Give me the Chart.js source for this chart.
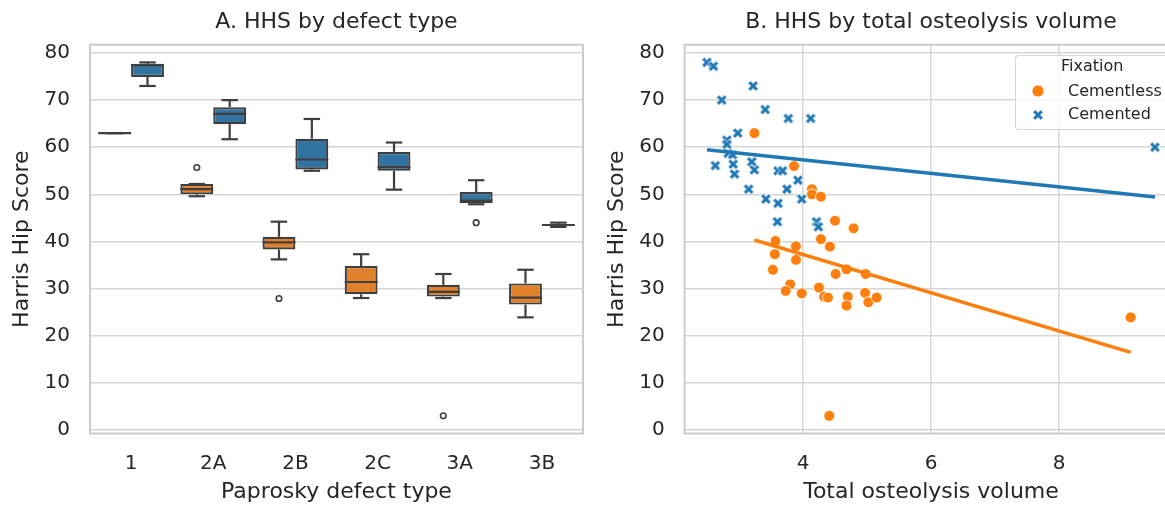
<!DOCTYPE html>
<html><head><meta charset="utf-8">
<script src="https://cdn.jsdelivr.net/npm/chart.js@4/dist/chart.umd.min.js"></script>
<style>
html,body{margin:0;padding:0;background:#fff;overflow:hidden;width:1165px;height:506px;}
#wrap{position:relative;width:1165px;height:506px;overflow:hidden;}
#c1{position:absolute;left:0;top:0;}
#c2{position:absolute;left:600px;top:0;}
#legend{position:absolute;left:1015px;top:55px;width:152px;height:73px;border:1px solid rgba(204,204,204,0.8);border-radius:4px;background:rgba(255,255,255,0.8);font-family:'DejaVu Sans';font-size:16px;color:#262626;}
#legend .t{position:absolute;line-height:20px;white-space:nowrap;}
#legend svg{position:absolute;}
</style></head>
<body><div id="wrap">
<canvas id="c1" width="600" height="506"></canvas>
<canvas id="c2" width="620" height="506"></canvas>
<div id="legend">
  <span class="t" style="left:45px;top:0px;">Fixation</span>
  <svg style="left:15px;top:28px" width="14" height="14"><circle cx="7" cy="7" r="6" fill="#ff7f0e" stroke="#fff" stroke-width="0.8"/></svg>
  <span class="t" style="left:52px;top:25px;">Cementless</span>
  <svg style="left:15px;top:52px" width="14" height="14"><polygon id="legX" fill="#1f77b4" stroke="#fff" stroke-width="0.8"/></svg>
  <span class="t" style="left:52px;top:48px;">Cemented</span>
</div>
</div>
<script>
// ---------- Panel A data (box plot summaries) ----------
const categories = ['1','2A','2B','2C','3A','3B'];
const cementlessMin    = [63.0, 49.6, 36.2, 28.0, 28.0, 23.9];
const cementlessQ1     = [63.0, 50.0, 38.3, 28.8, 28.3, 26.6];
const cementlessMedian = [63.0, 51.1, 39.8, 31.4, 29.3, 28.1];
const cementlessQ3     = [63.0, 52.2, 41.0, 34.8, 30.8, 31.1];
const cementlessMax    = [63.0, 52.2, 44.2, 37.3, 33.1, 34.0];
const cementlessOutliers = [[], [55.7], [27.9], [], [3.0], []];
const cementedMin    = [73.0, 61.7, 55.0, 51.0, 47.9, 43.1];
const cementedQ1     = [74.9, 64.9, 55.3, 55.0, 48.1, 43.4];
const cementedMedian = [77.4, 67.1, 57.4, 55.8, 48.7, 43.5];
const cementedQ3     = [77.7, 68.5, 61.8, 59.0, 50.5, 43.7];
const cementedMax    = [78.0, 70.0, 66.0, 61.0, 53.0, 44.0];
const cementedOutliers = [[], [], [], [], [44.0], []];

// ---------- Panel B data (scatter) ----------
const cementlessX = [3.24,3.86,4.14,4.14,4.28,4.50,4.79,4.28,4.42,3.57,3.56,3.89,3.89,3.53,4.51,4.68,4.98,3.80,3.73,3.98,4.25,4.33,4.39,4.70,4.68,4.97,5.02,5.15,9.12,4.41];
const cementlessY = [63.0,56.0,51.1,50.0,49.5,44.4,42.8,40.5,38.9,40.1,37.3,39.0,36.1,34.0,33.1,34.1,33.1,30.9,29.5,29.0,30.2,28.3,28.1,28.3,26.4,29.1,27.1,28.1,23.9,3.0];
const cementedX = [2.50,2.60,3.22,2.73,3.41,3.77,4.12,2.98,2.81,2.81,2.83,2.90,2.63,2.91,3.20,3.24,2.93,3.61,3.68,3.92,3.15,3.75,3.42,3.61,3.98,3.60,4.21,4.24,9.50];
const cementedY = [78.0,77.2,73.0,70.0,68.0,66.1,66.1,63.0,61.5,60.6,58.7,58.4,56.1,56.4,56.9,55.2,54.3,55.0,55.0,53.0,51.1,51.1,49.0,48.1,49.0,44.2,44.2,43.1,60.0];
const yTicksStep = 10;
const xTicksStep = 2;

const FONT = "'DejaVu Sans', sans-serif";
const TXT = '#262626';
const GRID = '#d5d5d5';
const EDGE = '#3f3f3f';

// regression fit from data
function fitLine(xs, ys){
  const n = xs.length;
  const mx = xs.reduce((a,b)=>a+b,0)/n, my = ys.reduce((a,b)=>a+b,0)/n;
  let sxy=0, sxx=0;
  for(let i=0;i<n;i++){ sxy += (xs[i]-mx)*(ys[i]-my); sxx += (xs[i]-mx)*(xs[i]-mx); }
  const b = sxy/sxx, a = my - b*mx;
  const x0 = Math.min(...xs), x1 = Math.max(...xs);
  return [{x:x0, y:a+b*x0},{x:x1, y:a+b*x1}];
}

// X marker shape
function xPolygon(cx, cy, a, b){
  const pts = [[b,a],[b,b],[a,b],[a,-b],[b,-b],[b,-a],[-b,-a],[-b,-b],[-a,-b],[-a,b],[-b,b],[-b,a]];
  const c = Math.cos(Math.PI/4), s = Math.sin(Math.PI/4);
  return pts.map(([x,y])=>[cx + x*c - y*s, cy + x*s + y*c]);
}
function makeXMarker(){
  const cv = document.createElement('canvas'); cv.width = 16; cv.height = 16;
  const g = cv.getContext('2d');
  const p = xPolygon(8,8,5.6,1.8);
  g.beginPath(); p.forEach(([x,y],i)=> i?g.lineTo(x,y):g.moveTo(x,y)); g.closePath();
  g.fillStyle = '#1f77b4'; g.fill(); g.strokeStyle = '#ffffff'; g.lineWidth = 0.8; g.stroke();
  return cv;
}
document.getElementById('legX').setAttribute('points', xPolygon(7,7,5.6,1.8).map(p=>p.join(',')).join(' '));

const framePlugin = {
  id:'frame',
  beforeDatasetsDraw(chart){
    const {ctx, chartArea:{left,top,right,bottom}} = chart;
    ctx.save(); ctx.strokeStyle = '#cccccc'; ctx.lineWidth = 2;
    ctx.strokeRect(left, top, right-left, bottom-top); ctx.restore();
  }
};

const stats = [
  {min:cementlessMin, med:cementlessMedian, max:cementlessMax, out:cementlessOutliers, q1:cementlessQ1, q3:cementlessQ3},
  {min:cementedMin, med:cementedMedian, max:cementedMax, out:cementedOutliers, q1:cementedQ1, q3:cementedQ3}
];
const boxPlugin = {
  id:'boxparts',
  afterDatasetsDraw(chart){
    const ctx = chart.ctx, y = chart.scales.y;
    ctx.save(); ctx.strokeStyle = EDGE; ctx.lineWidth = 2.2; ctx.lineCap = 'butt';
    stats.forEach((st, d)=>{
      const meta = chart.getDatasetMeta(d);
      meta.data.forEach((el, i)=>{
        const x = el.x, w = el.width;
        const line = (x0,y0,x1,y1)=>{ctx.beginPath(); ctx.moveTo(x0,y0); ctx.lineTo(x1,y1); ctx.stroke();};
        const pMax = y.getPixelForValue(st.max[i]), pMin = y.getPixelForValue(st.min[i]);
        const pQ3 = y.getPixelForValue(st.q3[i]), pQ1 = y.getPixelForValue(st.q1[i]);
        if (pMax < pQ3) line(x, pQ3, x, pMax);
        if (pMin > pQ1) line(x, pQ1, x, pMin);
        line(x - w/4, pMax, x + w/4, pMax);
        line(x - w/4, pMin, x + w/4, pMin);
        const pMed = y.getPixelForValue(st.med[i]);
        line(x - w/2, pMed, x + w/2, pMed);
        st.out[i].forEach(v=>{
          ctx.beginPath(); ctx.lineWidth = 1.6; ctx.arc(x, y.getPixelForValue(v), 2.8, 0, Math.PI*2); ctx.stroke(); ctx.lineWidth = 2.2;
        });
      });
    });
    ctx.restore();
  }
};

const tickFont = {family:FONT, size:20};
const labFont = {family:FONT, size:22};
function topTitleAxis(text, extra){
  return Object.assign({position:'top', grid:{display:false, drawTicks:false}, border:{display:false},
    ticks:{display:false},
    title:{display:true, text, color:TXT, font:labFont, padding:{top:8.8,bottom:0}},
    afterFit(s){ s.height = 44.75; }}, extra);
}

new Chart(document.getElementById('c1'), {
  type:'bar',
  data:{labels:categories, datasets:[
    {label:'Cementless', data:categories.map((c,i)=>[cementlessQ1[i], cementlessQ3[i]]), backgroundColor:'#e1812c', borderColor:EDGE, borderWidth:2.2, borderSkipped:false, categoryPercentage:0.8, barPercentage:1.0},
    {label:'Cemented', data:categories.map((c,i)=>[cementedQ1[i], cementedQ3[i]]), backgroundColor:'#3274a1', borderColor:EDGE, borderWidth:2.2, borderSkipped:false, categoryPercentage:0.8, barPercentage:1.0}
  ]},
  options:{
    responsive:false, animation:false, devicePixelRatio:1, events:[],
    layout:{padding:{left:0,right:17,top:0,bottom:0}},
    plugins:{legend:{display:false}, tooltip:{enabled:false}, title:{display:false}},
    scales:{
      x:{grid:{display:false, drawTicks:false}, border:{display:false},
         ticks:{color:TXT, font:tickFont, padding:18.5},
         title:{display:true, text:'Paprosky defect type', color:TXT, font:labFont, padding:{top:0,bottom:0.8}},
         afterFit(s){ s.height = 72.5; }},
      xTop: topTitleAxis('A. HHS by defect type', {type:'category'}),
      y:{min:-0.75, max:81.75,
         ticks:{stepSize:yTicksStep, includeBounds:false, color:TXT, font:tickFont, padding:20},
         grid:{color:GRID, lineWidth:1.5, drawTicks:false}, border:{display:false},
         title:{display:true, text:'Harris Hip Score', color:TXT, font:labFont, padding:{top:8.8,bottom:0}},
         afterFit(s){ s.width = 90; }}
    }
  },
  plugins:[framePlugin, boxPlugin]
});

const xMarker = makeXMarker();
new Chart(document.getElementById('c2'), {
  type:'scatter',
  data:{datasets:[
    {type:'line', label:'Cementless fit', data:fitLine(cementlessX, cementlessY), borderColor:'#ff7f0e', borderWidth:3.5, pointRadius:0, showLine:true, fill:false, tension:0, order:0},
    {type:'line', label:'Cemented fit', data:fitLine(cementedX, cementedY), borderColor:'#1f77b4', borderWidth:3.5, pointRadius:0, showLine:true, fill:false, tension:0, order:0},
    {label:'Cemented', data:cementedX.map((x,i)=>({x, y:cementedY[i]})), pointStyle:xMarker, pointRadius:7, order:1},
    {label:'Cementless', data:cementlessX.map((x,i)=>({x, y:cementlessY[i]})), backgroundColor:'#ff7f0e', borderColor:'#ffffff', borderWidth:0.8, pointRadius:5.4, order:2}
  ]},
  options:{
    responsive:false, animation:false, devicePixelRatio:1, events:[],
    layout:{padding:{left:0,right:42.6,top:0,bottom:0}},
    plugins:{legend:{display:false}, tooltip:{enabled:false}, title:{display:false}},
    scales:{
      x:{type:'linear', min:2.15, max:9.85,
         ticks:{stepSize:xTicksStep, includeBounds:false, color:TXT, font:tickFont, padding:18.5},
         grid:{color:GRID, lineWidth:1.5, drawTicks:false}, border:{display:false},
         title:{display:true, text:'Total osteolysis volume', color:TXT, font:labFont, padding:{top:0,bottom:0.8}},
         afterFit(s){ s.height = 72.5; }},
      xTop: topTitleAxis('B. HHS by total osteolysis volume', {type:'linear', min:2.15, max:9.85}),
      y:{min:-0.75, max:81.75,
         ticks:{stepSize:yTicksStep, includeBounds:false, color:TXT, font:tickFont, padding:20},
         grid:{color:GRID, lineWidth:1.5, drawTicks:false}, border:{display:false},
         title:{display:true, text:'Harris Hip Score', color:TXT, font:labFont, padding:{top:3.8,bottom:0}},
         afterFit(s){ s.width = 84.6; }}
    }
  },
  plugins:[framePlugin]
});
</script>
</body></html>
